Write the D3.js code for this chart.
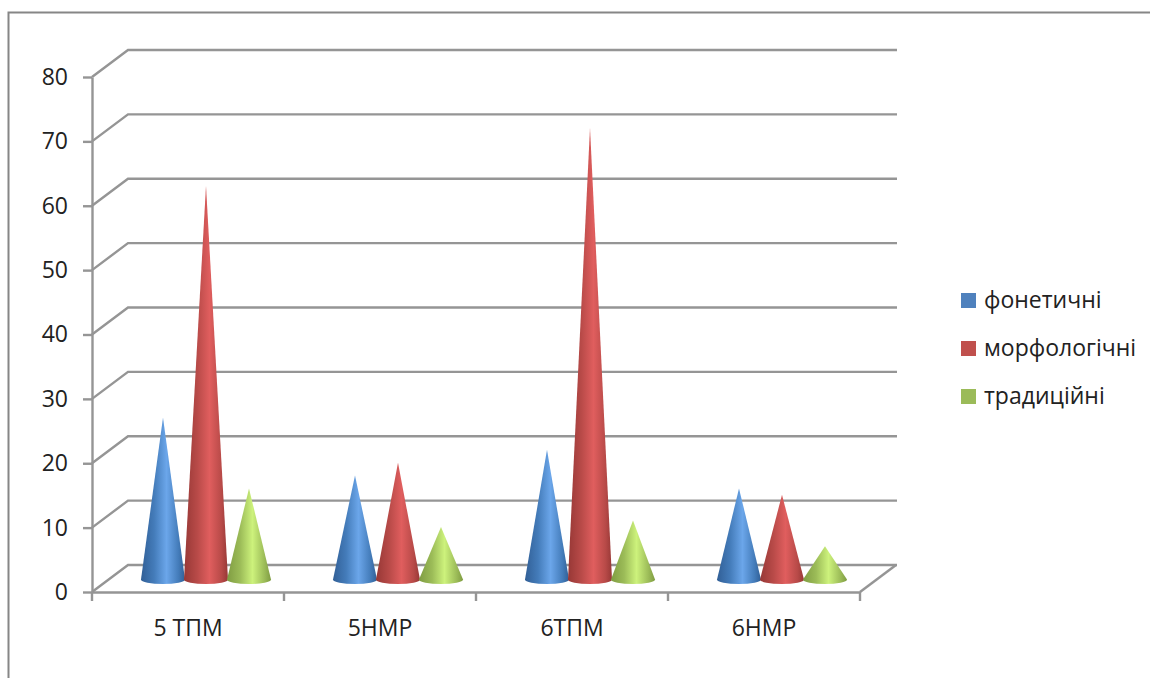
<!DOCTYPE html>
<html>
<head>
<meta charset="utf-8">
<script src="https://cdn.jsdelivr.net/npm/d3@7"></script>
<style>
  html, body { margin: 0; padding: 0; background: #fff; }
  svg { display: block; }
  text { font-family: "Open Sans", sans-serif; fill: #222; }
</style>
</head>
<body>
<svg id="chart" width="1150" height="678"></svg>
<script>
// Chart data
const categories = ['5 ТПМ', '5НМР', '6ТПМ', '6НМР'];
const seriesNames = ['фонетичні', 'морфологічні', 'традиційні'];
const foneticValues = [25, 16, 20, 14];
const morfoValues = [61, 18, 70, 13];
const tradValues = [14, 8, 9, 5];
const yTicks = [0, 10, 20, 30, 40, 50, 60, 70, 80];

const allValues = [foneticValues, morfoValues, tradValues];
const legendColors = ['#4f81bd', '#c0504d', '#9bbb59'];
// edge, middle and centre colours of the cone shading
const coneShades = [
  ['#315f96', '#447cba', '#6ba6ea'],
  ['#973836', '#b84a48', '#e05e5e'],
  ['#7f9c42', '#9cbc58', '#cdf27c']
];

const width = 1150, height = 678;
const margin = { left: 92, right: 860, top: 77, bottom: 592 };
const depthX = 36, depthY = 27;
const gridColor = '#959595';
const fontSize = '23px';

const svg = d3.select('#chart');

const x = d3.scaleBand().domain(categories).range([margin.left, margin.right]);
const y = d3.scaleLinear().domain([0, 80]).range([margin.bottom, margin.top]);
const inner = d3.scaleLinear().domain([0, 2]).range([-43, 43]);

// Outer frame, cut off by the picture at right and bottom
svg.append('path')
  .attr('d', `M8.5,${height} V12.5 H${width}`)
  .attr('fill', 'none')
  .attr('stroke', '#868686')
  .attr('stroke-width', 2);

// Gradients for the cones
const defs = svg.append('defs');
coneShades.forEach((shade, i) => {
  const grad = defs.append('linearGradient').attr('id', `cone${i}`);
  grad.append('stop').attr('offset', '0%').attr('stop-color', shade[0]);
  grad.append('stop').attr('offset', '30%').attr('stop-color', shade[1]);
  grad.append('stop').attr('offset', '58%').attr('stop-color', shade[2]);
  grad.append('stop').attr('offset', '85%').attr('stop-color', shade[1]);
  grad.append('stop').attr('offset', '100%').attr('stop-color', shade[0]);
});

// Grid lines: side wall then back wall
svg.append('g')
  .selectAll('path')
  .data(yTicks)
  .enter().append('path')
  .attr('d', d => `M${margin.left},${y(d)} L${margin.left + depthX},${y(d) - depthY} H${margin.right + depthX + 1}`)
  .attr('fill', 'none')
  .attr('stroke', gridColor)
  .attr('stroke-width', 2.4);

// Right edge of the floor
svg.append('line')
  .attr('x1', margin.right).attr('y1', y(0))
  .attr('x2', margin.right + depthX).attr('y2', y(0) - depthY)
  .attr('stroke', gridColor)
  .attr('stroke-width', 2.4);

// Axes
const yAxis = d3.axisLeft(y).tickValues(yTicks).tickSize(9).tickPadding(15).tickSizeOuter(0);
const yG = svg.append('g').attr('transform', `translate(${margin.left},0)`).call(yAxis);
const xTickValues = d3.range(categories.length + 1).map(i => margin.left + i * x.bandwidth());
const xAxis = d3.axisBottom(x).tickSize(0).tickPadding(28);
const xG = svg.append('g').attr('transform', `translate(0,${margin.bottom})`).call(xAxis);
xG.selectAll('.tick text').attr('dy', '0.71em');
xG.selectAll('.tick-mark')
  .data(xTickValues)
  .enter().append('line')
  .attr('x1', d => d).attr('x2', d => d)
  .attr('y1', 0).attr('y2', 9)
  .attr('stroke', gridColor)
  .attr('stroke-width', 2.4);
[yG, xG].forEach(g => {
  g.selectAll('.domain').attr('stroke', gridColor).attr('stroke-width', 2.4);
  g.selectAll('.tick line').attr('stroke', gridColor).attr('stroke-width', 2.4);
  g.selectAll('.tick text').style('font-size', fontSize).style('fill', '#222');
});

// Cones, one per value
const coneData = [];
categories.forEach((cat, c) => {
  allValues.forEach((vals, s) => coneData.push({ cat, s, value: vals[c] }));
});
const rx = 22, ry = 4.5;
svg.append('g')
  .selectAll('path')
  .data(coneData)
  .enter().append('path')
  .attr('d', d => {
    const cx = x(d.cat) + x.bandwidth() / 2 + depthX / 2 + inner(d.s);
    const base = y(0) - depthY / 2 + 1;
    const tip = y(d.value) - depthY / 2;
    return `M${cx - rx},${base} L${cx},${tip} L${cx + rx},${base} A${rx},${ry} 0 0 1 ${cx - rx},${base} Z`;
  })
  .attr('fill', d => `url(#cone${d.s})`);

// Legend
const legendY = d3.scalePoint().domain(seriesNames).range([301, 397]);
const legend = svg.append('g')
  .selectAll('g')
  .data(seriesNames)
  .enter().append('g')
  .attr('transform', d => `translate(961,${legendY(d)})`);
legend.append('rect')
  .attr('x', 0).attr('y', -8).attr('width', 15).attr('height', 15)
  .attr('fill', (d, i) => legendColors[i]);
legend.append('text')
  .attr('x', 23)
  .attr('dy', '0.32em')
  .style('font-size', fontSize)
  .text(d => d);
</script>
</body>
</html>
